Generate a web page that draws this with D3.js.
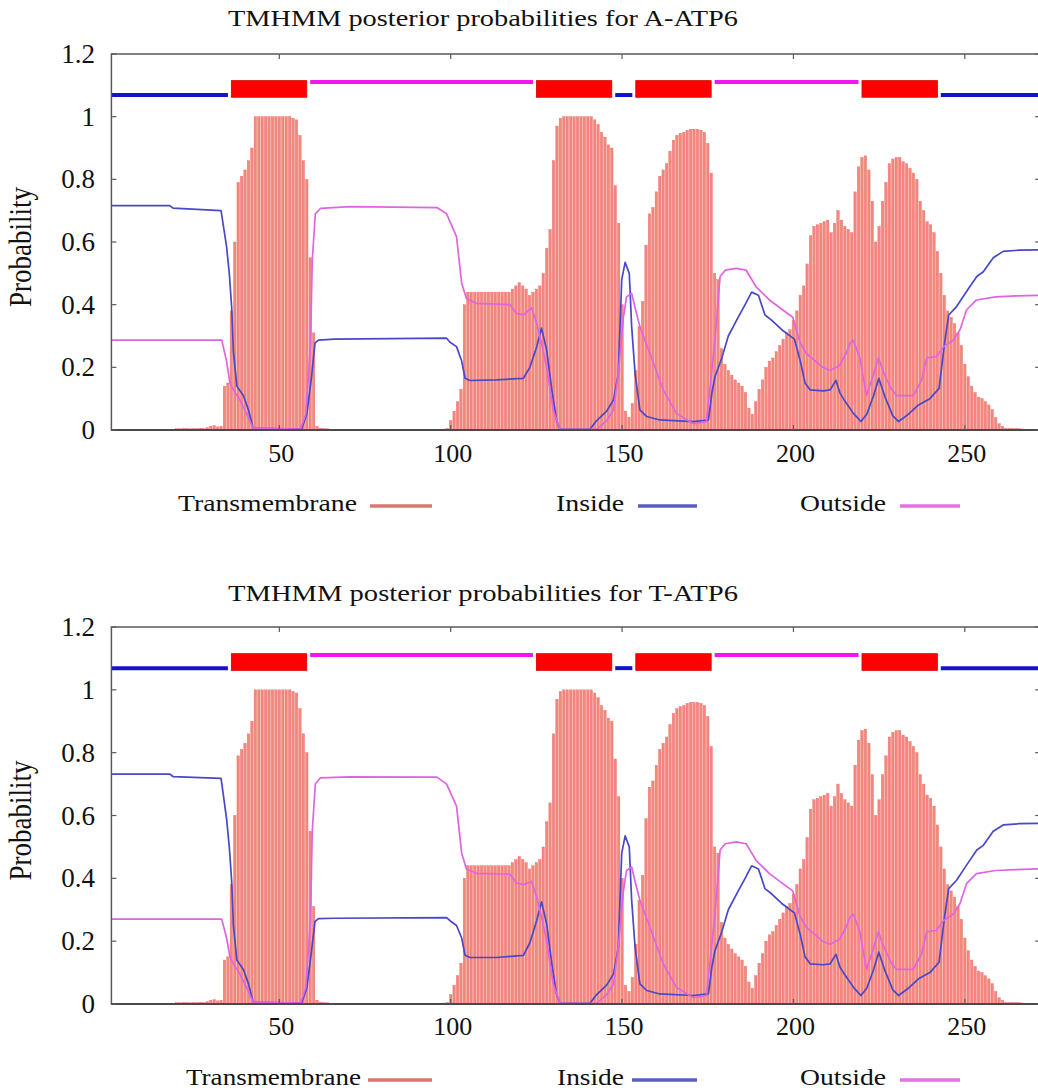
<!DOCTYPE html>
<html>
<head>
<meta charset="utf-8">
<script src="https://cdn.jsdelivr.net/npm/d3@7"></script>
<style>
  html, body { margin: 0; padding: 0; background: #fff; }
  svg { display: block; }
  text { font-family: "Liberation Serif", "Times New Roman", Times, serif; fill: #111; }
</style>
</head>
<body>
<svg id="chart" width="1038" height="1091"></svg>
<script>
// Per-residue transmembrane posterior probability (residues 1..271)
const transmembrane = [
  0,0,0,0,0,0,0,0,0,0,
  0,0,0,0,0,0,0,0,0,0.004,
  0.004,0.005,0.005,0.004,0.005,0.005,0.006,0.005,0.008,0.012,
  0.014,0.010,0.012,0.14,0.15,0.38,0.60,0.79,0.81,0.83,
  0.86,0.90,1,1,1,1,1,1,1,1,
  1,1,1,0.995,0.99,0.94,0.86,0.80,0.55,0.31,
  0.012,0.006,0.005,0.004,0,0,0,0,0,0,
  0,0,0,0,0,0,0,0,0,0,
  0,0,0,0,0,0,0,0,0,0,
  0,0,0,0,0,0,0.002,0.003,0.005,0.03,
  0.06,0.09,0.13,0.40,0.44,0.44,0.44,0.44,0.44,0.44,
  0.44,0.44,0.44,0.44,0.44,0.44,0.44,0.45,0.46,0.47,
  0.46,0.45,0.43,0.44,0.45,0.46,0.50,0.58,0.64,0.86,
  0.97,0.995,1,1,1,1,1,1,1,1,
  1,0.99,0.975,0.95,0.935,0.91,0.90,0.78,0.66,0.40,
  0.06,0.04,0.085,0.19,0.33,0.41,0.59,0.69,0.71,0.76,
  0.81,0.83,0.85,0.89,0.925,0.94,0.947,0.95,0.957,0.96,
  0.96,0.96,0.957,0.95,0.915,0.82,0.50,0.48,0.26,0.21,
  0.19,0.175,0.16,0.15,0.14,0.12,0.07,0.05,0.09,0.13,
  0.16,0.20,0.22,0.23,0.25,0.27,0.29,0.31,0.32,0.35,
  0.38,0.43,0.46,0.53,0.62,0.65,0.655,0.66,0.665,0.67,
  0.63,0.66,0.70,0.67,0.65,0.64,0.63,0.76,0.84,0.87,
  0.875,0.83,0.73,0.60,0.65,0.73,0.79,0.85,0.865,0.87,
  0.87,0.856,0.85,0.835,0.82,0.80,0.73,0.70,0.665,0.655,
  0.63,0.57,0.50,0.43,0.38,0.36,0.34,0.31,0.27,0.21,
  0.17,0.14,0.12,0.105,0.10,0.09,0.08,0.065,0.04,0.02,
  0.012,0.005,0.005,0.005,0.005,0.004,0.003,0,0,0,0
];

// Inside / outside probability traces as [residue, probability]
const insideA = [
  [1,0.716],[18,0.716],[19,0.708],[33,0.70],[34.6,0.585],[35.4,0.50],[36.1,0.39],[36.6,0.25],
  [37.6,0.14],[39.5,0.11],[41,0.064],[42.4,0.005],[56.5,0.003],[58,0.05],[59.4,0.17],[60.4,0.277],
  [61.4,0.287],[66,0.29],[98.8,0.293],[99.8,0.28],[101.7,0.266],[103.2,0.22],[104.2,0.165],
  [105.6,0.158],[113.4,0.16],[121.2,0.165],[123.1,0.20],[125.1,0.266],[126.5,0.325],[128,0.255],
  [129.5,0.128],[130.9,0.03],[131.9,0.002],[140.6,0.002],[142.6,0.03],[145.5,0.06],[147.5,0.096],
  [148.9,0.18],[149.9,0.48],[150.9,0.535],[152.1,0.50],[152.8,0.33],[153.8,0.18],[155.2,0.064],
  [157.2,0.043],[161,0.032],[170.8,0.027],[175.2,0.032],[176.2,0.117],[177.1,0.17],[179.1,0.23],
  [181,0.30],[183.9,0.36],[185.9,0.40],[187.8,0.44],[189.8,0.43],[190.7,0.40],[191.7,0.367],
  [193.7,0.35],[196.6,0.32],[200.3,0.29],[202,0.22],[203.4,0.15],[204.9,0.128],[208.7,0.125],
  [210.7,0.128],[212.4,0.158],[213.6,0.117],[214.8,0.096],[217.5,0.053],[219.7,0.027],[221.4,0.05],
  [223.4,0.11],[224.9,0.165],[226.7,0.106],[229,0.045],[230.7,0.027],[233.5,0.05],[236.5,0.08],
  [239.8,0.10],[242.5,0.133],[244,0.27],[245.3,0.367],[247.6,0.394],[251,0.45],[253.5,0.49],
  [255.4,0.505],[258.3,0.55],[261.2,0.57],[266,0.574],[272,0.575]
];
const outsideA = [
  [1,0.287],[33.2,0.287],[34.6,0.22],[35.6,0.15],[36.6,0.128],[38.5,0.096],[40.4,0.053],[42.4,0.005],
  [56.2,0.003],[57.7,0.05],[59.1,0.27],[59.6,0.54],[60.5,0.69],[62,0.707],[70.6,0.713],[96,0.71],
  [98.8,0.69],[101.7,0.617],[103.2,0.468],[104.6,0.42],[107.5,0.404],[117.3,0.40],[119.2,0.372],
  [121.2,0.367],[123.6,0.39],[125.1,0.34],[126.5,0.277],[128,0.20],[129.9,0.064],[131.9,0.002],
  [142.6,0.002],[145.5,0.03],[147.5,0.064],[148.9,0.18],[150.4,0.36],[151.3,0.425],[152.8,0.436],
  [153.8,0.39],[155.2,0.33],[158.1,0.245],[162,0.128],[165.9,0.053],[170.8,0.02],[174.6,0.027],
  [175.6,0.128],[177.1,0.287],[178.6,0.49],[180.1,0.51],[183.3,0.516],[186.2,0.51],[189.1,0.457],
  [193,0.415],[196.9,0.383],[199.8,0.36],[201.9,0.28],[203.7,0.245],[208.5,0.20],[210.7,0.19],
  [213.4,0.205],[215.4,0.245],[216.5,0.277],[217.4,0.287],[219.3,0.234],[221.3,0.11],[223.3,0.175],
  [224.8,0.23],[226.2,0.186],[228.6,0.13],[230.1,0.11],[235,0.11],[237.4,0.16],[238.9,0.23],
  [241.7,0.234],[243.8,0.266],[246.7,0.287],[248.6,0.32],[250.5,0.383],[253.4,0.415],[259,0.425],
  [265,0.428],[272,0.43]
];
const insideT = [
  [1,0.732],[18,0.732],[19,0.724],[33,0.718],[34.6,0.59],[35.4,0.50],[36.1,0.39],[36.6,0.25],
  [37.6,0.14],[39.5,0.11],[41,0.064],[42.4,0.005],[56.5,0.003],[58,0.05],[59.4,0.17],[60.4,0.262],
  [61.4,0.272],[66,0.273],[98.8,0.275],[99.8,0.265],[101.7,0.25],[103.2,0.21],[104.2,0.155],
  [105.6,0.148],[113.4,0.148],[121.2,0.155],[123.1,0.195],[125.1,0.266],[126.5,0.325],[128,0.255],
  [129.5,0.128],[130.9,0.03],[131.9,0.002],[140.6,0.002],[142.6,0.03],[145.5,0.06],[147.5,0.096],
  [148.9,0.18],[149.9,0.48],[150.9,0.535],[152.1,0.50],[152.8,0.33],[153.8,0.18],[155.2,0.064],
  [157.2,0.043],[161,0.032],[170.8,0.027],[175.2,0.032],[176.2,0.117],[177.1,0.17],[179.1,0.23],
  [181,0.30],[183.9,0.36],[185.9,0.40],[187.8,0.44],[189.8,0.43],[190.7,0.40],[191.7,0.367],
  [193.7,0.35],[196.6,0.32],[200.3,0.29],[202,0.22],[203.4,0.15],[204.9,0.128],[208.7,0.125],
  [210.7,0.128],[212.4,0.158],[213.6,0.117],[214.8,0.096],[217.5,0.053],[219.7,0.027],[221.4,0.05],
  [223.4,0.11],[224.9,0.165],[226.7,0.106],[229,0.045],[230.7,0.027],[233.5,0.05],[236.5,0.08],
  [239.8,0.10],[242.5,0.133],[244,0.27],[245.3,0.367],[247.6,0.394],[251,0.45],[253.5,0.49],
  [255.4,0.505],[258.3,0.55],[261.2,0.57],[266,0.574],[272,0.575]
];
const outsideT = [
  [1,0.27],[33.2,0.27],[34.6,0.21],[35.6,0.15],[36.6,0.128],[38.5,0.096],[40.4,0.053],[42.4,0.005],
  [56.2,0.003],[57.7,0.05],[59.1,0.27],[59.6,0.55],[60.5,0.70],[62,0.72],[70.6,0.723],[96,0.722],
  [98.8,0.70],[101.7,0.63],[103.2,0.48],[104.6,0.43],[107.5,0.416],[117.3,0.413],[119.2,0.385],
  [121.2,0.38],[123.6,0.39],[125.1,0.34],[126.5,0.277],[128,0.20],[129.9,0.064],[131.9,0.002],
  [142.6,0.002],[145.5,0.03],[147.5,0.064],[148.9,0.18],[150.4,0.36],[151.3,0.425],[152.8,0.436],
  [153.8,0.39],[155.2,0.33],[158.1,0.245],[162,0.128],[165.9,0.053],[170.8,0.02],[174.6,0.027],
  [175.6,0.128],[177.1,0.287],[178.6,0.49],[180.1,0.51],[183.3,0.516],[186.2,0.51],[189.1,0.457],
  [193,0.415],[196.9,0.383],[199.8,0.36],[201.9,0.28],[203.7,0.245],[208.5,0.20],[210.7,0.19],
  [213.4,0.205],[215.4,0.245],[216.5,0.277],[217.4,0.287],[219.3,0.234],[221.3,0.11],[223.3,0.175],
  [224.8,0.23],[226.2,0.186],[228.6,0.13],[230.1,0.11],[235,0.11],[237.4,0.16],[238.9,0.23],
  [241.7,0.234],[243.8,0.266],[246.7,0.287],[248.6,0.32],[250.5,0.383],[253.4,0.415],[259,0.425],
  [265,0.428],[272,0.43]
];

// Predicted topology: [type, first residue, last residue]
const topology = [
  ["inside", 1, 35], ["TMhelix", 36, 58], ["outside", 59, 124], ["TMhelix", 125, 147],
  ["inside", 148, 153], ["TMhelix", 154, 176], ["outside", 177, 219], ["TMhelix", 220, 242],
  ["inside", 243, 272]
];

const xTicks = [50, 100, 150, 200, 250];
const yTicks = [0, 0.2, 0.4, 0.6, 0.8, 1, 1.2];
const yTickLabels = ["0", "0.2", "0.4", "0.6", "0.8", "1", "1.2"];
const legendItems = ["Transmembrane", "Inside", "Outside"];

const panels = [
  { title: "TMHMM posterior probabilities for A-ATP6", inside: insideA, outside: outsideA,
    top: 54, bottom: 430, titleY: 26, tickLabelY: 462, legendY: 511,
    legendX: [178, 556, 800], legendW: [179, 68, 86],
    swatchX: [[370, 432], [638, 697], [900, 960]] },
  { title: "TMHMM posterior probabilities for T-ATP6", inside: insideT, outside: outsideT,
    top: 627, bottom: 1004, titleY: 601, tickLabelY: 1035, legendY: 1085,
    legendX: [186, 557, 800], legendW: [175, 67, 86],
    swatchX: [[368, 432], [632, 697], [900, 960]] }
];

const colors = {
  bar: "#f3877d", barEdge: "#e7736a",
  inside: "#4848c8", outside: "#e064e0",
  segInside: "#1414c4", segOutside: "#ee18ee", segTM: "#ff0000",
  legend: ["#dc756e", "#5c5cc8", "#e272e2"],
  frame: "#5a5a5a"
};

const svg = d3.select("#chart");
const x = d3.scaleLinear().domain([1, 272]).range([111.4, 1040.2]);

panels.forEach(p => {
  const y = d3.scaleLinear().domain([0, 1.2]).range([p.bottom, p.top]);
  const g = svg.append("g");

  // title
  g.append("text")
    .attr("x", 228).attr("y", p.titleY)
    .attr("font-size", 24)
    .attr("textLength", 510).attr("lengthAdjust", "spacingAndGlyphs")
    .text(p.title);

  // transmembrane impulses
  const bw = 2.5;
  g.append("g").selectAll("rect")
    .data(transmembrane.map((v, i) => ({ pos: i + 1, v })).filter(d => d.v > 0))
    .join("rect")
    .attr("x", d => x(d.pos) - bw / 2)
    .attr("width", bw)
    .attr("y", d => y(d.v))
    .attr("height", d => Math.max(0.8, y(0) - y(d.v)))
    .attr("fill", colors.bar)
    .attr("stroke", colors.barEdge)
    .attr("stroke-width", 0.4);

  // inside / outside traces
  const line = d3.line().x(d => x(d[0])).y(d => y(d[1]));
  g.append("path").datum(p.inside)
    .attr("d", line).attr("fill", "none")
    .attr("stroke", colors.inside).attr("stroke-width", 1.7)
    .attr("stroke-linejoin", "round");
  g.append("path").datum(p.outside)
    .attr("d", line).attr("fill", "none")
    .attr("stroke", colors.outside).attr("stroke-width", 1.7)
    .attr("stroke-linejoin", "round");

  // topology bar above the plot
  topology.forEach(([type, a, b]) => {
    if (type === "TMhelix") {
      g.append("rect")
        .attr("x", x(a)).attr("width", x(b) - x(a))
        .attr("y", y(1.115)).attr("height", y(1.062) - y(1.115))
        .attr("fill", colors.segTM).attr("stroke", "#d40000").attr("stroke-width", 0.8);
    } else {
      const lvl = type === "inside" ? 1.069 : 1.111;
      g.append("line")
        .attr("x1", x(a)).attr("x2", x(b))
        .attr("y1", y(lvl)).attr("y2", y(lvl))
        .attr("stroke", type === "inside" ? colors.segInside : colors.segOutside)
        .attr("stroke-width", 4);
    }
  });

  // frame
  const x0 = x.range()[0], x1 = x.range()[1];
  g.append("rect")
    .attr("x", x0).attr("y", p.top)
    .attr("width", x1 - x0).attr("height", p.bottom - p.top)
    .attr("fill", "none").attr("stroke", colors.frame).attr("stroke-width", 1.5);
  g.append("line")
    .attr("x1", x0).attr("x2", x1).attr("y1", p.bottom).attr("y2", p.bottom)
    .attr("stroke", "#4a4a4a").attr("stroke-width", 2);

  // ticks (inward on all four sides)
  xTicks.forEach(t => {
    g.append("line").attr("x1", x(t)).attr("x2", x(t))
      .attr("y1", p.top).attr("y2", p.top + 5)
      .attr("stroke", colors.frame).attr("stroke-width", 1.2);
    g.append("line").attr("x1", x(t)).attr("x2", x(t))
      .attr("y1", p.bottom).attr("y2", p.bottom - 5)
      .attr("stroke", colors.frame).attr("stroke-width", 1.2);
    g.append("text")
      .attr("x", x(t) + 2).attr("y", p.tickLabelY)
      .attr("text-anchor", "middle").attr("font-size", 26)
      .text(t);
  });
  yTicks.forEach((t, i) => {
    g.append("line").attr("x1", x0).attr("x2", x0 + 5)
      .attr("y1", y(t)).attr("y2", y(t))
      .attr("stroke", colors.frame).attr("stroke-width", 1.2);
    g.append("line").attr("x1", x1).attr("x2", x1 - 5)
      .attr("y1", y(t)).attr("y2", y(t))
      .attr("stroke", colors.frame).attr("stroke-width", 1.2);
    g.append("text")
      .attr("x", 95).attr("y", y(t) + 9)
      .attr("text-anchor", "end").attr("font-size", 27)
      .text(yTickLabels[i]);
  });

  // y-axis title
  g.append("text")
    .attr("transform", `translate(31, ${(p.top + p.bottom) / 2 + 5}) scale(1.2,1) rotate(-90)`)
    .attr("text-anchor", "middle").attr("font-size", 27)
    .text("Probability");

  // legend
  legendItems.forEach((name, i) => {
    g.append("text")
      .attr("x", p.legendX[i]).attr("y", p.legendY)
      .attr("font-size", 24)
      .attr("textLength", p.legendW[i]).attr("lengthAdjust", "spacingAndGlyphs")
      .text(name);
    g.append("line")
      .attr("x1", p.swatchX[i][0]).attr("x2", p.swatchX[i][1])
      .attr("y1", p.legendY - 5).attr("y2", p.legendY - 5)
      .attr("stroke", colors.legend[i]).attr("stroke-width", 3.5);
  });
});
</script>
</body>
</html>
